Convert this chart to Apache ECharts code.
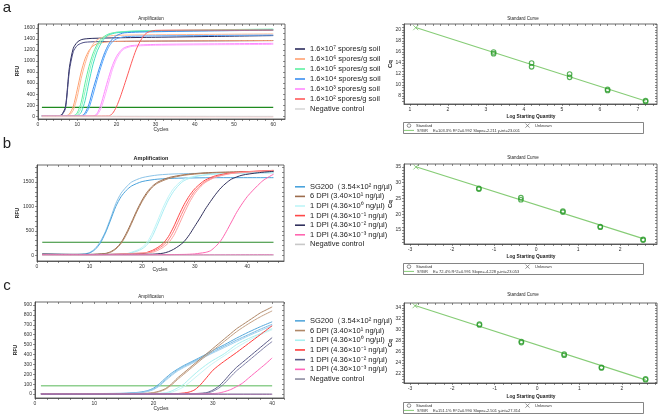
<!DOCTYPE html>
<html><head><meta charset="utf-8">
<script src="https://cdn.jsdelivr.net/npm/echarts@6.0.0/dist/echarts.min.js"></script>
<style>html,body{margin:0;padding:0;background:#fff}#c{width:660px;height:416px}</style>
</head><body><div id="c"></div><script>
const FONT = 'Liberation Sans, Arial, sans-serif';

// ---------- tick labels ----------
const A_XTICKS = [0,10,20,30,40,50,60];
const A_YTICKS = [0,200,400,600,800,1000,1200,1400,1600];
const B_XTICKS = [0,10,20,30,40];
const B_YTICKS = [0,500,1000,1500];
const C_XTICKS = [0,10,20,30,40];
const C_YTICKS = [0,100,200,300,400,500,600,700,800,900];
const SA_XTICKS = [1,2,3,4,5,6,7];
const SA_YTICKS = [8,10,12,14,16,18,20];
const SB_XTICKS = [-3,-2,-1,0,1,2];
const SB_YTICKS = [15,20,25,30,35];
const SC_XTICKS = [-3,-2,-1,0,1,2];
const SC_YTICKS = [22,24,26,28,30,32,34];

// ---------- panel a : amplification ----------
const A_NAMES = ['1.6×10⁷ spores/g soil','1.6×10⁶ spores/g soil','1.6×10⁵ spores/g soil','1.6×10⁴ spores/g soil','1.6×10³ spores/g soil','1.6×10² spores/g soil','Negative control'];
const a_e7_1 = [[1,12],[3,10],[5,10],[6,25],[7,170],[8,880],[9,1230],[10,1340],[11,1385],[12,1400],[14,1410],[20,1420],[30,1430],[45,1445],[60,1460]];
const a_e7_2 = [[1,8],[3,6],[5,7],[6,18],[7,140],[8,820],[9,1170],[10,1280],[11,1320],[12,1340],[15,1350],[30,1360],[45,1365],[60,1370]];
const a_e6_1 = [[1,5],[5,3],[7,5],[8,40],[9,180],[10,480],[11,800],[12,1040],[13,1190],[14,1270],[15,1310],[17,1340],[20,1355],[40,1365],[60,1370]];
const a_e6_2 = [[1,3],[5,2],[7,3],[8,20],[9,110],[10,350],[11,680],[12,950],[13,1160],[14,1300],[15,1380],[17,1440],[20,1465],[40,1480],[60,1490]];
const a_e5_1 = [[1,5],[6,4],[9,8],[10,60],[11,250],[12,600],[13,900],[14,1130],[15,1290],[16,1390],[17,1450],[18,1490],[20,1520],[25,1540],[40,1555],[60,1570]];
const a_e5_2 = [[1,3],[6,3],[9,5],[10,30],[11,150],[12,450],[13,780],[14,1050],[15,1240],[16,1360],[17,1430],[18,1480],[20,1520],[25,1545],[40,1560],[60,1580]];
const a_e5_3 = [[1,2],[6,2],[10,10],[11,70],[12,280],[13,620],[14,930],[15,1160],[16,1310],[17,1410],[18,1470],[20,1510],[25,1535],[40,1550],[60,1560]];
const a_e4_1 = [[1,4],[8,3],[11,5],[12,60],[13,220],[14,480],[15,720],[16,950],[17,1150],[18,1300],[19,1400],[20,1460],[22,1510],[30,1530],[45,1545],[60,1560]];
const a_e4_2 = [[1,2],[8,2],[11,3],[12,30],[13,150],[14,380],[15,640],[16,880],[17,1090],[18,1250],[19,1350],[20,1400],[22,1440],[30,1455],[45,1462],[60,1470]];
const a_e3_1 = [[1,3],[10,2],[14,5],[15,40],[16,200],[17,450],[18,700],[19,920],[20,1080],[21,1180],[22,1240],[24,1280],[30,1300],[45,1310],[60,1320]];
const a_e3_2 = [[1,2],[10,1],[14,3],[15,20],[16,130],[17,350],[18,600],[19,850],[20,1030],[21,1150],[22,1220],[24,1265],[30,1285],[45,1295],[60,1300]];
const a_e2_1 = [[1,3],[10,2],[18,5],[19,50],[20,170],[21,350],[22,560],[23,780],[24,1000],[25,1200],[26,1350],[27,1460],[28,1520],[30,1555],[45,1560],[60,1560]];
const a_e2_2 = [[1,-8],[20,-8],[40,-10],[60,-10]];
const a_neg = [[1,2],[30,0],[60,-2]];
const a_thresh = [[1,160],[60,160]];

// ---------- panel b : amplification ----------
const B_NAMES = ['SG200（3.54×10² ng/µl)','6 DPI (3.40×10¹ ng/µl)','1 DPI (4.36×10⁰ ng/µl)','1 DPI (4.36×10⁻¹ ng/µl)','1 DPI (4.36×10⁻² ng/µl)','1 DPI (4.36×10⁻³ ng/µl)','Negative control'];
const b_sg_1 = [[1,25],[4,18],[7,15],[9,25],[10,55],[11,130],[12,270],[13,480],[14,760],[15,1060],[16,1270],[17,1400],[18,1500],[20,1590],[23,1645],[27,1670],[35,1685],[45,1690]];
const b_sg_2 = [[1,20],[4,15],[7,12],[9,20],[10,45],[11,110],[12,240],[13,450],[14,720],[15,1000],[16,1200],[17,1330],[18,1420],[20,1510],[23,1560],[27,1580],[35,1590],[45,1590]];
const b_6d_1 = [[1,20],[5,15],[10,15],[13,35],[14,70],[15,140],[16,260],[17,450],[18,680],[19,920],[20,1130],[21,1300],[22,1420],[23,1500],[25,1590],[28,1650],[32,1690],[38,1710],[45,1720]];
const b_6d_2 = [[1,15],[10,12],[13,30],[14,60],[15,125],[16,240],[17,420],[18,650],[19,890],[20,1100],[21,1270],[22,1400],[23,1480],[25,1570],[28,1640],[32,1680],[38,1700],[45,1710]];
const b_e0_1 = [[1,15],[10,10],[17,30],[18,60],[19,100],[20,160],[21,270],[22,470],[23,720],[24,980],[25,1200],[26,1370],[27,1480],[28,1560],[30,1620],[33,1660],[37,1680],[45,1700]];
const b_e0_2 = [[1,12],[10,8],[17,25],[18,50],[19,80],[20,130],[21,220],[22,400],[23,640],[24,900],[25,1130],[26,1310],[27,1440],[28,1530],[30,1610],[33,1655],[37,1680],[45,1695]];
const b_m1_1 = [[1,15],[10,10],[20,30],[21,60],[22,100],[23,160],[24,240],[25,380],[26,580],[27,820],[28,1040],[29,1220],[30,1360],[31,1460],[32,1540],[34,1630],[37,1690],[41,1720],[45,1740]];
const b_m1_2 = [[1,12],[10,8],[21,45],[22,80],[23,130],[24,200],[25,310],[26,490],[27,720],[28,950],[29,1150],[30,1310],[31,1420],[32,1510],[34,1610],[37,1680],[41,1715],[45,1735]];
const b_m1_3 = [[1,10],[10,6],[22,60],[23,100],[24,160],[25,250],[26,400],[27,620],[28,860],[29,1080],[30,1260],[31,1390],[32,1490],[34,1600],[37,1675],[41,1710],[45,1730]];
const b_m2_1 = [[1,20],[10,15],[22,20],[24,40],[25,70],[26,120],[27,190],[28,280],[29,420],[30,590],[31,760],[32,940],[33,1100],[34,1250],[35,1380],[36,1480],[37,1560],[39,1640],[42,1690],[45,1720]];
const b_m3_1 = [[1,10],[20,8],[28,15],[30,25],[31,40],[32,55],[33,90],[34,180],[35,300],[36,480],[37,680],[38,880],[39,1050],[40,1200],[41,1320],[42,1430],[43,1530],[44,1600],[45,1660]];
const b_m3_2 = [[1,5],[20,5],[45,8]];
const b_neg = [[1,0],[45,0]];
const b_thresh = [[1,265],[45,265]];

// ---------- panel c : amplification ----------
const C_NAMES = B_NAMES;
const c_sg_1 = [[1,5],[10,5],[15,8],[17,15],[18,22],[19,35],[20,60],[21,105],[22,160],[23,210],[24,250],[25,285],[26,315],[28,375],[30,440],[32,500],[34,565],[36,625],[38,680],[40,730]];
const c_sg_2 = [[1,3],[10,4],[15,6],[17,12],[18,18],[19,30],[20,50],[21,90],[22,145],[23,195],[24,240],[25,275],[26,305],[28,365],[30,425],[32,485],[34,545],[36,600],[38,655],[40,705]];
const c_sg_3 = [[1,2],[10,3],[15,5],[17,10],[18,15],[19,26],[20,45],[21,82],[22,135],[23,185],[24,230],[25,265],[26,295],[28,355],[30,415],[32,472],[34,530],[36,588],[38,640],[40,690]];
const c_6d_1 = [[1,3],[15,3],[19,8],[20,15],[21,30],[22,55],[23,100],[24,160],[25,210],[26,260],[27,310],[28,360],[29,410],[30,460],[31,510],[32,560],[33,610],[34,660],[35,700],[36,740],[37,780],[38,820],[39,850],[40,880]];
const c_6d_2 = [[1,2],[15,2],[19,6],[20,12],[21,25],[22,48],[23,90],[24,145],[25,195],[26,245],[27,295],[28,345],[29,392],[30,440],[32,535],[34,630],[36,710],[38,780],[40,840]];
const c_e0_1 = [[1,3],[15,3],[20,5],[22,12],[23,30],[24,60],[25,95],[26,150],[27,205],[28,255],[29,300],[30,340],[32,410],[34,500],[36,560],[38,610],[40,660]];
const c_e0_2 = [[1,2],[15,2],[21,5],[23,18],[24,40],[25,70],[26,115],[27,165],[28,215],[29,265],[30,310],[32,390],[34,470],[36,540],[38,600],[40,650]];
const c_m1_1 = [[1,2],[20,2],[24,5],[25,10],[26,20],[27,45],[28,100],[29,170],[30,240],[31,290],[32,335],[34,420],[36,510],[38,600],[40,690]];
const c_m2_1 = [[1,2],[20,2],[27,5],[28,8],[29,15],[30,40],[31,80],[32,140],[33,210],[34,270],[35,320],[36,370],[37,420],[38,470],[39,520],[40,570]];
const c_m2_2 = [[1,1],[20,1],[28,5],[29,10],[30,28],[31,60],[32,110],[33,175],[34,235],[35,285],[36,335],[37,385],[38,435],[39,485],[40,530]];
const c_m3_1 = [[1,1],[25,2],[30,5],[31,10],[32,25],[33,45],[34,75],[35,110],[36,160],[37,210],[38,260],[39,310],[40,365]];
const c_m3_2 = [[1,-3],[40,-3]];
const c_neg = [[1,0],[40,0]];
const c_thresh = [[1,85],[40,85]];

// ---------- standard curves ----------
const SA_STD = [[3.2,16.0],[3.2,15.7],[4.2,14.0],[4.2,13.3],[5.2,12.0],[5.2,11.4],[6.2,9.2],[6.2,9.0],[7.2,7.15],[7.2,7.0]];
const SA_UNK = [[1.15,20.42]];
const SA_FIT = [[1.15,20.45],[7.2,7.08]];
const SB_STD = [[-1.36,28.2],[-1.36,28.0],[-0.36,25.25],[-0.36,24.6],[0.64,21.0],[0.64,20.7],[1.53,16.1],[1.53,15.9],[2.55,12.0],[2.55,11.8]];
const SB_UNK = [[-2.86,35.0]];
const SB_FIT = [[-2.86,35.1],[2.55,12.27]];
const SC_STD = [[-1.36,31.05],[-1.36,30.9],[-0.37,27.9],[-0.37,27.7],[0.64,25.6],[0.64,25.4],[1.52,23.2],[1.52,23.1],[2.56,21.1],[2.56,20.95]];
const SC_UNK = [[-2.88,34.4]];
const SC_FIT = [[-2.88,34.45],[2.56,20.93]];
const SA_STATS = 'E=103.3% R^2=0.992 Slope=-2.211 y-int=23.001';
const SB_STATS = 'E= 72.4% R^2=0.991 Slope=-4.228 y-int=23.053';
const SC_STATS = 'E=151.1% R^2=0.990 Slope=-2.501 y-int=27.314';

// ---------- styles ----------
const A_COL = ['#2b2b5c','#ffa070','#5ef0a0','#3a8ff0','#ff88ff','#ff5a5a','#d8d8d8'];
const B_COL = ['#4aa3dc','#9c6c4c','#bff5f8','#ff4848','#30305c','#ff66b0','#c8c8c8'];
const C_COL = ['#55a8dc','#b08868','#a8f0f0','#ff3c3c','#5a5a88','#ff66bb','#8c8ca0'];

const A_SER = [[0,a_e7_1,'#2b2b5c'],[0,a_e7_2,'#4a4a82'],[1,a_e6_1,'#ffa070'],[1,a_e6_2,'#ffb890'],[2,a_e5_1,'#5ef0a0'],[2,a_e5_2,'#8af5c0'],[2,a_e5_3,'#44e0c0'],[3,a_e4_1,'#3a8ff0'],[3,a_e4_2,'#5aa8ff'],[4,a_e3_1,'#ff88ff'],[4,a_e3_2,'#ffaaff'],[5,a_e2_1,'#ff5a5a'],[5,a_e2_2,'#ffb0b0'],[6,a_neg,'#d8d8d8']];
const B_SER = [[0,b_sg_1,'#8cc4e8'],[0,b_sg_2,'#4aa3dc'],[1,b_6d_1,'#9c6c4c'],[1,b_6d_2,'#b08464'],[2,b_e0_1,'#bff5f8'],[2,b_e0_2,'#a8eef4'],[3,b_m1_1,'#ff4848'],[3,b_m1_2,'#ff7a7a'],[3,b_m1_3,'#ffa0a0'],[4,b_m2_1,'#30305c'],[5,b_m3_1,'#ff66b0'],[5,b_m3_2,'#e040a0'],[6,b_neg,'#c8c8c8']];
const C_SER = [[0,c_sg_1,'#55a8dc'],[0,c_sg_2,'#7cbde6'],[0,c_sg_3,'#a0d0ee'],[1,c_6d_1,'#b08868'],[1,c_6d_2,'#c4a084'],[2,c_e0_1,'#a8f0f0'],[2,c_e0_2,'#c8f6f6'],[3,c_m1_1,'#ff3c3c'],[4,c_m2_1,'#5a5a88'],[4,c_m2_2,'#8080a8'],[5,c_m3_1,'#ff66bb'],[5,c_m3_2,'#b050b0'],[6,c_neg,'#8c8ca0']];

function steps(a,b,s){const o=[];for(let v=a;v<=b+1e-9;v+=s)o.push(Math.round(v*1000)/1000);return o;}

const GRIDS = [
  {left:38, top:24, width:247, height:95},
  {left:37, top:165, width:247, height:96},
  {left:35, top:302, width:249, height:96},
  {left:404, top:24, width:253, height:80},
  {left:404, top:164, width:253, height:80},
  {left:404, top:303, width:253, height:80}
];
const AX = [
  {xmin:0, xmax:63, xl:A_XTICKS, xs:[0,62,2], ymin:-50, ymax:1670, yl:A_YTICKS, ys:[0,1600,100]},
  {xmin:0, xmax:47, xl:B_XTICKS, xs:[0,46,2], ymin:-120, ymax:1850, yl:B_YTICKS, ys:[0,1800,100]},
  {xmin:0, xmax:42, xl:C_XTICKS, xs:[0,42,2], ymin:-40, ymax:930, yl:C_YTICKS, ys:[0,900,50]},
  {xmin:0.842, xmax:7.5, xl:SA_XTICKS, xs:[1,7.4,0.2], ymin:6.545, ymax:21.09, yl:SA_YTICKS, ys:[7,21,0.5]},
  {xmin:-3.143, xmax:2.88, xl:SB_XTICKS, xs:[-3,2.8,0.2], ymin:10.56, ymax:35.95, yl:SB_YTICKS, ys:[11,35,1]},
  {xmin:-3.14, xmax:2.83, xl:SC_XTICKS, xs:[-3,2.8,0.2], ymin:20.36, ymax:34.9, yl:SC_YTICKS, ys:[20.5,34.5,0.5]}
];

const xAxis = [], yAxis = [];
const AXC = '#444';
const plain = v => String(v);
AX.forEach((a,i)=>{
  xAxis.push({gridIndex:i,type:'value',min:a.xmin,max:a.xmax,
    axisLine:{show:true,onZero:false,lineStyle:{color:AXC,width:0.8}},
    axisTick:{show:true,customValues:steps(a.xs[0],a.xs[1],a.xs[2]),length:2,lineStyle:{color:AXC,width:0.6}},
    axisLabel:{show:true,customValues:a.xl,formatter:plain,fontSize:5,color:'#333',margin:3,fontFamily:FONT},
    splitLine:{show:false}});
  yAxis.push({gridIndex:i,type:'value',min:a.ymin,max:a.ymax,
    axisLine:{show:true,onZero:false,lineStyle:{color:AXC,width:0.8}},
    axisTick:{show:true,customValues:steps(a.ys[0],a.ys[1],a.ys[2]),length:2,lineStyle:{color:AXC,width:0.6}},
    axisLabel:{show:true,customValues:a.yl,formatter:plain,fontSize:5,color:'#333',margin:3,fontFamily:FONT},
    splitLine:{show:false}});
});
AX.forEach((a,i)=>{
  xAxis.push({gridIndex:i,type:'value',position:'top',min:a.xmin,max:a.xmax,
    axisLine:{show:false,onZero:false},axisLabel:{show:false},splitLine:{show:false},
    axisTick:{show:true,inside:true,customValues:steps(a.xs[0],a.xs[1],a.xs[2]),length:2,lineStyle:{color:AXC,width:0.6}}});
  yAxis.push({gridIndex:i,type:'value',position:'right',min:a.ymin,max:a.ymax,
    axisLine:{show:false,onZero:false},axisLabel:{show:false},splitLine:{show:false},
    axisTick:{show:true,inside:true,customValues:steps(a.ys[0],a.ys[1],a.ys[2]),length:2,lineStyle:{color:AXC,width:0.6}}});
});

const series = [];
function addAmp(list,names,gi,thresh,tcol,tw){
  series.push({type:'line',data:thresh,xAxisIndex:gi,yAxisIndex:gi,symbol:'none',silent:true,
    lineStyle:{color:tcol,width:tw},z:2});
  list.forEach(([ni,data,color])=>{
    series.push({type:'line',name:names[ni],data,xAxisIndex:gi,yAxisIndex:gi,symbol:'none',showSymbol:false,
      smooth:0.25,silent:true,lineStyle:{color,width:1},itemStyle:{color},z:3});
  });
}
addAmp(A_SER,A_NAMES,0,a_thresh,'#1f8a1f',1.2);
addAmp(B_SER,B_NAMES,1,b_thresh,'#2a8a2a',1.2);
addAmp(C_SER,C_NAMES,2,c_thresh,'#8fcf8f',1.5);

function addStd(gi,std,unk,fit){
  series.push({type:'line',data:fit,xAxisIndex:gi,yAxisIndex:gi,symbol:'none',silent:true,lineStyle:{color:'#86cc76',width:1.1},z:2});
  series.push({type:'scatter',data:std,xAxisIndex:gi,yAxisIndex:gi,symbol:'circle',symbolSize:4.5,silent:true,
    itemStyle:{color:'rgba(0,0,0,0)',borderColor:'#2e9e2e',borderWidth:1.2},z:4});
  series.push({type:'scatter',data:unk,xAxisIndex:gi,yAxisIndex:gi,symbol:'path://M0,0L10,10M10,0L0,10',symbolSize:5,silent:true,
    itemStyle:{color:'rgba(0,0,0,0)',borderColor:'#6cbc5c',borderWidth:0.9},z:4});
}
addStd(3,SA_STD,SA_UNK,SA_FIT);
addStd(4,SB_STD,SB_UNK,SB_FIT);
addStd(5,SC_STD,SC_UNK,SC_FIT);

function mkLegend(names,cols,top,lh){
  return {data:names.map((n,i)=>({name:n,itemStyle:{color:cols[i]}})),orient:'vertical',left:290,top:top,
    icon:'rect',itemWidth:10,itemHeight:1.6,itemGap:0,selectedMode:false,
    textStyle:{fontSize:7.5,lineHeight:lh,color:'#222',fontFamily:FONT}};
}
const legend = [mkLegend(A_NAMES,A_COL,39,10),mkLegend(B_NAMES,B_COL,177,9.6),mkLegend(C_NAMES,C_COL,311,9.7)];

function txt(x,y,text,font,opt){
  return Object.assign({type:'text',x,y,silent:true,style:{text,font:font+' '+FONT,fill:'#222',textAlign:'center',textVerticalAlign:'middle'}},opt||{});
}
function rtxt(x,y,text,font){
  return {type:'text',x,y,rotation:Math.PI/2,silent:true,style:{text,font:font+' '+FONT,fill:'#222',textAlign:'center',textVerticalAlign:'middle'}};
}
function stdLegend(y,stats){
  const f='4px '+FONT;
  return [
    {type:'rect',shape:{x:403.5,y:y+0.5,width:240,height:11},style:{fill:'#fff',stroke:'#666',lineWidth:0.8},silent:true},
    {type:'circle',shape:{cx:409,cy:y+3.6,r:1.8},style:{fill:'none',stroke:'#666',lineWidth:0.7},silent:true},
    {type:'text',x:416,y:y+3.6,silent:true,style:{text:'Standard',font:f,fill:'#333',textVerticalAlign:'middle'}},
    {type:'polyline',shape:{points:[[525.5,y+1.6],[529.5,y+5.6]]},style:{stroke:'#666',lineWidth:0.7},silent:true},
    {type:'polyline',shape:{points:[[529.5,y+1.6],[525.5,y+5.6]]},style:{stroke:'#666',lineWidth:0.7},silent:true},
    {type:'text',x:535,y:y+3.6,silent:true,style:{text:'Unknown',font:f,fill:'#333',textVerticalAlign:'middle'}},
    {type:'line',shape:{x1:404,y1:y+8.4,x2:414,y2:y+8.4},style:{stroke:'#86cc76',lineWidth:1},silent:true},
    {type:'text',x:417,y:y+8.4,silent:true,style:{text:'SYBR',font:f,fill:'#333',textVerticalAlign:'middle'}},
    {type:'text',x:433,y:y+8.4,silent:true,style:{text:stats,font:f,fill:'#333',textVerticalAlign:'middle'}}
  ];
}

const graphic = [
  txt(7,8,'a','15px',{}), txt(7,144,'b','15px',{}), txt(7,286,'c','15px',{}),
  txt(151,19,'Amplification','4.5px'), txt(151,158,'Amplification','bold 5.5px'), txt(151,297,'Amplification','4.5px'),
  txt(523,19,'Standard Curve','4.5px'), txt(523,158,'Standard Curve','4.5px'), txt(523,295,'Standard Curve','4.5px'),
  txt(161,130,'Cycles','5px'), txt(160,270,'Cycles','5px'), txt(161,409,'Cycles','5px'),
  rtxt(18,71,'RFU','bold 5px'), rtxt(18,213,'RFU','bold 5px'), rtxt(16,350,'RFU','bold 5px'),
  txt(531,117,'Log Starting Quantity','bold 4.8px'), txt(531,257,'Log Starting Quantity','bold 4.8px'), txt(531,397,'Log Starting Quantity','bold 4.8px'),
  rtxt(390,64,'Cq','bold 6px'), rtxt(390,204,'Cq','bold 6px'), rtxt(390,343,'Cq','bold 6px')
].concat(stdLegend(122,SA_STATS), stdLegend(263,SB_STATS), stdLegend(402,SC_STATS));

const chart = echarts.init(document.getElementById('c'), null, {renderer:'canvas'});
chart.setOption({
  animation:false, backgroundColor:'#fff',
  textStyle:{fontFamily:FONT},
  grid: GRIDS.map(g=>Object.assign({show:true,borderColor:AXC,borderWidth:0.8,backgroundColor:'transparent'},g)),
  xAxis, yAxis, series, legend, graphic
});
</script></body></html>
